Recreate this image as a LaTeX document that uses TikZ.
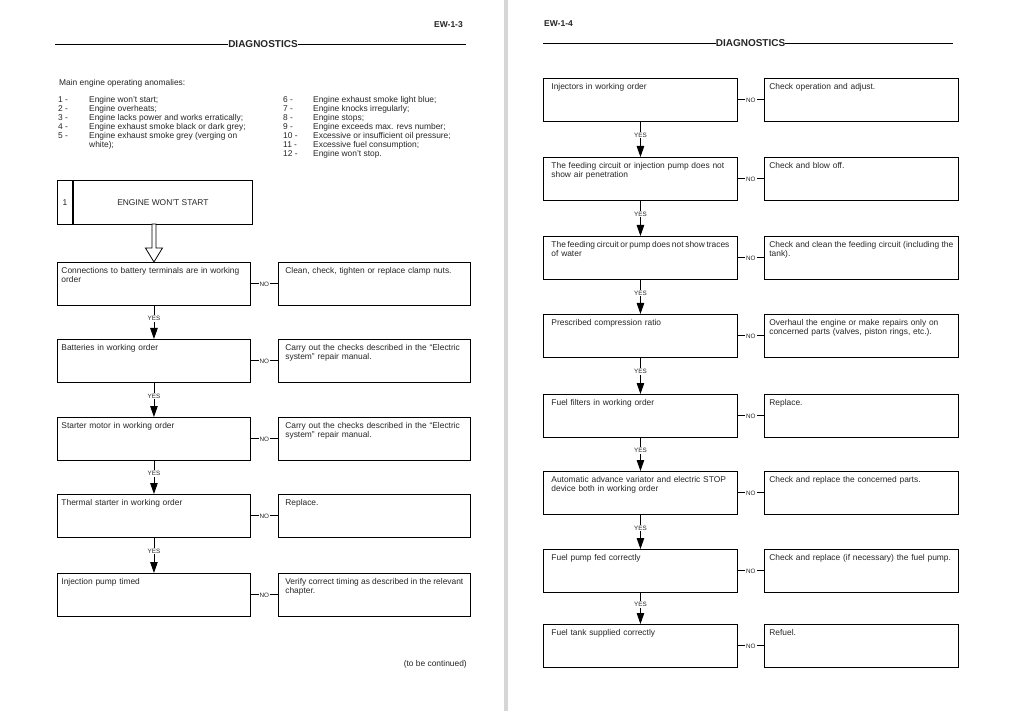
\documentclass[tikz,border=0pt]{standalone}
\usepackage{fontspec}
\setmainfont{Liberation Sans}
\usetikzlibrary{positioning,arrows.meta}

\newcommand\boxfont{\fontsize{8.4}{9}\selectfont}
\newcommand\tagfont{\fontsize{6.3}{7}\selectfont}
\newcommand\headfont{\fontsize{10}{12}\selectfont\bfseries}
% first line of a two-line box text, spread to the full width
\newcommand\fullline[1]{\makebox[\linewidth][s]{#1}}
% same, for lines that need narrow spaces
\newcommand\tightline[1]{{\spaceskip=1.2pt plus 3pt\makebox[\linewidth][s]{#1}}}

\begin{document}
\begin{tikzpicture}[x=1pt, y=-1pt,
                    every node/.style={text=black!85},
                    box/.style={draw=black, line width=0.9pt, rectangle, anchor=north west,
                                inner ysep=2pt, text height=9pt, text depth=30pt,
                                align=left, font=\boxfont},
                    condL/.style={box, inner xsep=4pt, text width=185pt},
                    fixL/.style={box, inner xsep=7pt, text width=178pt},
                    condR/.style={box, inner xsep=8pt, text width=178pt},
                    fixR/.style={box, inner xsep=5pt, text width=184pt},
                    rule/.style={line width=0.8pt},
                    tag/.style={font=\tagfont, fill=white, inner sep=1pt},
                    noline/.style={line width=1pt},
                    yesline/.style={line width=0.9pt, -{Triangle[length=11pt,width=7.5pt]}},
                    hollow/.style={line width=0.8pt, fill=white, line join=miter}]
  \useasboundingbox[fill=white] (0,0) rectangle (1012,711);
  % page gutter
  \fill[black!16] (504,0) rectangle (508,711);

  % ---------------- page EW-1-3 ----------------
  \node[font=\bfseries\fontsize{8.5}{9}\selectfont, anchor=base east, inner sep=0pt] (pageL) at (463,28) {EW-1-3};
  \node[font=\headfont, inner sep=0pt] (diagL) at (263,44) {DIAGNOSTICS};
  \coordinate (ruleLa) at (55,44);
  \coordinate (ruleLb) at (466,44);
  \draw[rule] (ruleLa) -- (diagL.west);
  \draw[rule] (diagL.east) -- (ruleLb);

  \node[font=\boxfont, anchor=base west, inner sep=0pt] (intro) at (59,86) {Main engine operating anomalies:};
  \node[font=\boxfont, anchor=base west, inner sep=0pt] (listL) at (58,103)
    {\begin{tabular}[t]{@{}p{31pt}@{}l@{}}
      1 - & Engine won't start;\\
      2 - & Engine overheats;\\
      3 - & Engine lacks power and works erratically;\\
      4 - & Engine exhaust smoke black or dark grey;\\
      5 - & Engine exhaust smoke grey (verging on\\
          & white);
     \end{tabular}};
  \node[font=\boxfont, anchor=base west, inner sep=0pt] (listR) at (283,103)
    {\begin{tabular}[t]{@{}p{30pt}@{}l@{}}
      6 - & Engine exhaust smoke light blue;\\
      7 - & Engine knocks irregularly;\\
      8 - & Engine stops;\\
      9 - & Engine exceeds max. revs number;\\
      10 - & Excessive or insufficient oil pressure;\\
      11 - & Excessive fuel consumption;\\
      12 - & Engine won't stop.
     \end{tabular}};

  \node[draw=black, line width=0.9pt, anchor=north west, minimum width=15pt, minimum height=44pt,
        inner sep=0pt, font=\boxfont] (startnum) at (57,180) {1};
  \node[draw=black, line width=0.9pt, minimum width=179pt, minimum height=44pt,
        inner sep=0pt, font=\boxfont, right=0pt of startnum] (start) {ENGINE WON'T START};

  \node[condL] (conn) at (57,262) {\fullline{Connections to battery terminals are in working}\\order};
  \node[condL] (batt) at (57,339) {Batteries in working order};
  \node[condL] (startr) at (57,417) {Starter motor in working order};
  \node[condL] (therm) at (57,494) {Thermal starter in working order};
  \node[condL] (injt) at (57,573) {Injection pump timed};

  \node[fixL, right=27pt of conn, anchor=west] (connfix) {Clean, check, tighten or replace clamp nuts.};
  \node[fixL, right=27pt of batt, anchor=west] (battfix) {\fullline{Carry out the checks described in the ``Electric}\\system'' repair manual.};
  \node[fixL, right=27pt of startr, anchor=west] (startrfix) {\fullline{Carry out the checks described in the ``Electric}\\system'' repair manual.};
  \node[fixL, right=27pt of therm, anchor=west] (thermfix) {Replace.};
  \node[fixL, right=27pt of injt, anchor=west] (injtfix) {\tightline{Verify correct timing as described in the relevant}\\chapter.};

  \draw[hollow] (conn.north) -- ++(-8.5,-14) -- ++(6.5,0) -- ++(0,-24) -- ++(4,0)
                -- ++(0,24) -- ++(6.5,0) -- cycle;

  \draw[yesline] (conn.south) -- node[tag, pos=0.38]{YES} (batt.north);
  \draw[yesline] (batt.south) -- node[tag, pos=0.38]{YES} (startr.north);
  \draw[yesline] (startr.south) -- node[tag, pos=0.38]{YES} (therm.north);
  \draw[yesline] (therm.south) -- node[tag, pos=0.38]{YES} (injt.north);

  \draw[noline] (conn.east) -- node[tag]{NO} (connfix.west);
  \draw[noline] (batt.east) -- node[tag]{NO} (battfix.west);
  \draw[noline] (startr.east) -- node[tag]{NO} (startrfix.west);
  \draw[noline] (therm.east) -- node[tag]{NO} (thermfix.west);
  \draw[noline] (injt.east) -- node[tag]{NO} (injtfix.west);

  \node[font=\boxfont, anchor=base east, inner sep=0pt] (contd) at (467,666) {(to be continued)};

  % ---------------- page EW-1-4 ----------------
  \node[font=\bfseries\fontsize{8.5}{9}\selectfont, anchor=base west, inner sep=0pt] (pageR) at (544,27) {EW-1-4};
  \node[font=\headfont, inner sep=0pt] (diagR) at (750.5,43) {DIAGNOSTICS};
  \coordinate (ruleRa) at (543,43);
  \coordinate (ruleRb) at (953,43);
  \draw[rule] (ruleRa) -- (diagR.west);
  \draw[rule] (diagR.east) -- (ruleRb);

  \node[condR] (injr) at (543,78) {Injectors in working order};
  \node[condR] (airp) at (543,157) {\fullline{The feeding circuit or injection pump does not}\\show air penetration};
  \node[condR] (water) at (543,236) {\tightline{The feeding circuit or pump does not show traces}\\of water};
  \node[condR] (compr) at (543,314) {Prescribed compression ratio};
  \node[condR] (filt) at (543,394) {Fuel filters in working order};
  \node[condR] (advs) at (543,471) {\fullline{Automatic advance variator and electric STOP}\\device both in working order};
  \node[condR] (pumpf) at (543,549) {Fuel pump fed correctly};
  \node[condR] (tank) at (543,624) {Fuel tank supplied correctly};

  \node[fixR, right=26pt of injr, anchor=west] (injrfix) {Check operation and adjust.};
  \node[fixR, right=26pt of airp, anchor=west] (airpfix) {Check and blow off.};
  \node[fixR, right=26pt of water, anchor=west] (waterfix) {\tightline{Check and clean the feeding circuit (including the}\\tank).};
  \node[fixR, right=26pt of compr, anchor=west] (comprfix) {\fullline{Overhaul the engine or make repairs only on}\\concerned parts (valves, piston rings, etc.).};
  \node[fixR, right=26pt of filt, anchor=west] (filtfix) {Replace.};
  \node[fixR, right=26pt of advs, anchor=west] (advsfix) {Check and replace the concerned parts.};
  \node[fixR, right=26pt of pumpf, anchor=west] (pumpffix) {Check and replace (if necessary) the fuel pump.};
  \node[fixR, right=26pt of tank, anchor=west] (tankfix) {Refuel.};

  \draw[yesline] (injr.south) -- node[tag, pos=0.38]{YES} (airp.north);
  \draw[yesline] (airp.south) -- node[tag, pos=0.38]{YES} (water.north);
  \draw[yesline] (water.south) -- node[tag, pos=0.38]{YES} (compr.north);
  \draw[yesline] (compr.south) -- node[tag, pos=0.38]{YES} (filt.north);
  \draw[yesline] (filt.south) -- node[tag, pos=0.38]{YES} (advs.north);
  \draw[yesline] (advs.south) -- node[tag, pos=0.38]{YES} (pumpf.north);
  \draw[yesline] (pumpf.south) -- node[tag, pos=0.38]{YES} (tank.north);

  \draw[noline] (injr.east) -- node[tag]{NO} (injrfix.west);
  \draw[noline] (airp.east) -- node[tag]{NO} (airpfix.west);
  \draw[noline] (water.east) -- node[tag]{NO} (waterfix.west);
  \draw[noline] (compr.east) -- node[tag]{NO} (comprfix.west);
  \draw[noline] (filt.east) -- node[tag]{NO} (filtfix.west);
  \draw[noline] (advs.east) -- node[tag]{NO} (advsfix.west);
  \draw[noline] (pumpf.east) -- node[tag]{NO} (pumpffix.west);
  \draw[noline] (tank.east) -- node[tag]{NO} (tankfix.west);
\end{tikzpicture}
\end{document}
